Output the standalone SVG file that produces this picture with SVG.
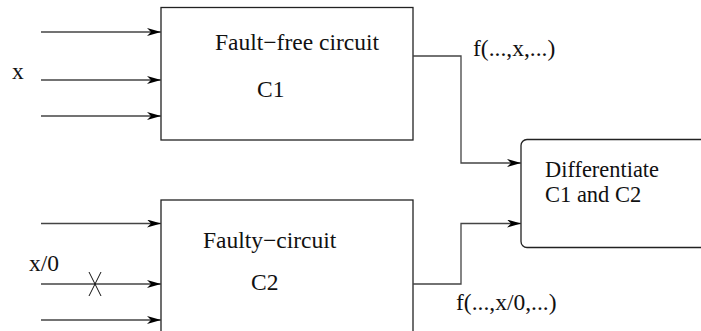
<svg xmlns="http://www.w3.org/2000/svg" width="701" height="331" viewBox="0 0 701 331">
<defs>
<style>
.box{fill:none;stroke:#222;stroke-width:1.3}
.ln{fill:none;stroke:#444;stroke-width:1.3}
.t{font-family:"Liberation Serif","Times New Roman",serif;font-size:23.5px;fill:#111}
.d{font-size:22.5px}
</style>
<marker id="ah" viewBox="0 0 14 8" refX="14" refY="4" markerWidth="14" markerHeight="8" markerUnits="userSpaceOnUse" orient="auto">
<path d="M0,0 L14,4 L0,8 L4,4 Z" fill="#000"/>
</marker>
</defs>
<rect width="701" height="331" fill="#fff"/>
<g id="c1">
<rect class="box" x="161" y="7.5" width="252" height="132.5"/>
<text class="t" x="215" y="50">Fault−free circuit</text>
<text class="t" x="257" y="97">C1</text>
</g>
<g id="c2">
<rect class="box" x="161" y="200" width="252" height="150"/>
<text class="t" x="203" y="248">Faulty−circuit</text>
<text class="t" x="251" y="290">C2</text>
</g>
<g id="diff">
<rect class="box" x="521" y="139.5" width="200" height="108" rx="6"/>
<text class="t d" x="545" y="177" textLength="114" lengthAdjust="spacingAndGlyphs">Differentiate</text>
<text class="t d" x="545" y="202">C1 and C2</text>
</g>
<g id="labels">
<text class="t" x="12" y="79">x</text>
<text class="t" x="29" y="271">x/0</text>
<text class="t" x="473" y="56">f(...,x,...)</text>
<text class="t" x="456" y="310">f(...,x/0,...)</text>
</g>
<g id="connectors">
<line class="ln" x1="41" y1="32" x2="161" y2="32" marker-end="url(#ah)"/>
<line class="ln" x1="41" y1="80" x2="161" y2="80" marker-end="url(#ah)"/>
<line class="ln" x1="41" y1="116" x2="161" y2="116" marker-end="url(#ah)"/>
<line class="ln" x1="41" y1="223.5" x2="161" y2="223.5" marker-end="url(#ah)"/>
<line class="ln" x1="41" y1="284" x2="161" y2="284" marker-end="url(#ah)"/>
<line class="ln" x1="41" y1="320" x2="161" y2="320" marker-end="url(#ah)"/>
<path class="ln" d="M413,56 H461 V163 H521" marker-end="url(#ah)"/>
<path class="ln" d="M413,284 H461 V223.5 H521" marker-end="url(#ah)"/>
<path d="M89,272 L101,296 M101,272 L89,296" fill="none" stroke="#111" stroke-width="1"/>
</g>
</svg>
